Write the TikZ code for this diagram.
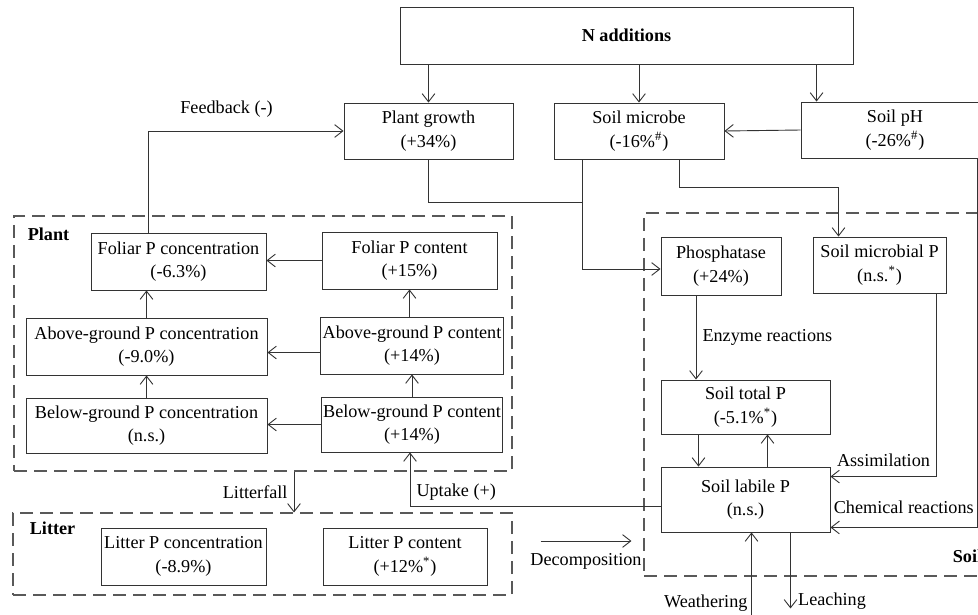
\documentclass[tikz,border=0pt]{standalone}
\usepackage{fontspec}
\setmainfont{Liberation Serif}
\usepackage{tikz}
\usetikzlibrary{arrows.meta,positioning,calc}

\begin{document}
\begin{tikzpicture}[
    x=0.55pt, y=-0.55pt,
    font=\fontsize{10}{13}\selectfont,
    box/.style 2 args={rectangle, draw=black!80, line width=0.5pt, minimum width=#1*0.55pt, minimum height=#2*0.55pt, inner sep=1pt, align=center},
    group/.style 2 args={rectangle, draw=black!65, line width=0.6pt, dash pattern=on 7pt off 4pt, minimum width=#1*0.55pt, minimum height=#2*0.55pt, inner sep=0pt},
    grouplabel/.style={font=\fontsize{10}{13}\selectfont\bfseries, anchor=west, inner sep=0pt},
    arrow/.style={-{Straight Barb[length=4.5pt,width=7pt]}, draw=black!80, line width=0.5pt},
    line/.style={draw=black!80, line width=0.5pt}
]
    \useasboundingbox (0,0) rectangle (978,614);
    \clip (0,0) rectangle (978,614);

    \node[group={498}{255}] (plant) at (263,343.5) {};
    \node[group={499}{82}] (litter) at (262.5,554) {};
    \node[group={366}{363}] (soil) at (827,394.5) {};
    \node[grouplabel] (plantlbl) at ($(plant.north west)+(14,19)$) {Plant};
    \node[grouplabel] (litterlbl) at ($(litter.north west)+(17,16)$) {Litter};
    \node[grouplabel] (soillbl) at ($(soil.south west)+(309,-20)$) {Soil};

    \node[box={453}{57}] (nadd) at (626.5,35.5) {\textbf{N additions}};
    \node[box={169}{56}] (growth) at (428.5,131) {Plant growth\\(+34\%)};
    \node[box={170}{56}] (microbe) at (639,131) {Soil microbe\\(-16\%\textsuperscript{\#})};
    \node[box={188}{56}] (ph) at (895,130) {Soil pH\\(-26\%\textsuperscript{\#})};

    \node[box={175}{57}] (fconc) at (178.5,261.5) {Foliar P concentration\\(-6.3\%)};
    \node[box={175}{57}] (fcont) at (409.5,260.5) {Foliar P content\\(+15\%)};
    \node[box={241}{57}] (aconc) at (146.5,346.5) {Above-ground P concentration\\(-9.0\%)};
    \node[box={174}{57}] (acont) at (412,345.5) {Above-ground P content\\(+14\%)};
    \node[box={241}{55}] (bconc) at (146.5,425.5) {Below-ground P concentration\\(n.s.)};
    \node[box={174}{55}] (bcont) at (412,424.5) {Below-ground P content\\(+14\%)};
    \node[box={165}{57}] (lconc) at (183.5,556.5) {Litter P concentration\\(-8.9\%)};
    \node[box={164}{57}] (lcont) at (405,556.5) {Litter P content\\(+12\%\textsuperscript{*})};

    \node[box={120}{58}] (phos) at (721,266) {Phosphatase\\(+24\%)};
    \node[box={133}{56}] (smicro) at (879.5,265) {Soil microbial P\\(n.s.\textsuperscript{*})};
    \node[box={169}{54}] (total) at (745.5,407) {Soil total P\\(-5.1\%\textsuperscript{*})};
    \node[box={169}{65}] (labile) at (745.5,499.5) {Soil labile P\\(n.s.)};

    \coordinate (phin) at ($(ph.north west)+(16,0)$);
    \coordinate (fb) at ($(fconc.north)+(-30,0)$);
    \coordinate (mdown) at ($(microbe.south west)+(29,0)$);
    \coordinate (mright) at ($(microbe.south)+(40,0)$);
    \coordinate (smin) at ($(smicro.north)+(-41,0)$);
    \coordinate (phdown) at ($(ph.south)+(82,0)$);
    \coordinate (chemin) at ($(labile.south east)+(0,-5)$);
    \coordinate (smout) at ($(smicro.south east)+(-10,0)$);
    \coordinate (asin) at ($(labile.north east)+(0,10)$);
    \coordinate (enz) at ($(phos.south)+(-25,0)$);
    \coordinate (lf) at ($(plant.south)+(31,0)$);
    \coordinate (dc) at ($(litter.east)+(28,-13)$);
    \coordinate (wt) at ($(labile.south)+(6,0)$);
    \coordinate (lc) at ($(labile.south)+(45,0)$);

    \draw[arrow] (nadd.south -| growth) -- (growth);
    \draw[arrow] (nadd.south -| microbe) -- (microbe);
    \draw[arrow] (nadd.south -| phin) -- (phin);
    \draw[arrow] (ph.west) -- (microbe.east);
    \draw[arrow] (fb) |- (growth.west) node[pos=0.7, above=4pt] {Feedback (-)};
    \draw[line] (growth.south) |- ($(mdown)+(0,43)$);
    \draw[arrow] (mdown) |- ($(phos.west)+(0,3)$);
    \draw[arrow] (mright) -- ($(mright)+(0,28)$) -| (smin);
    \draw[arrow] (phdown) |- (chemin) node[pos=0.75, above=4pt] {Chemical reactions};
    \draw[arrow] (smout) |- (asin) node[pos=0.75, above=2pt] {Assimilation};
    \draw[arrow] (enz) -- (enz |- total.north) node[midway, right] {Enzyme reactions};
    \draw[arrow] ($(total.south)+(-47,0)$) -- ($(labile.north)+(-47,0)$);
    \draw[arrow] ($(labile.north)+(22,0)$) -- ($(total.south)+(22,0)$);

    \draw[arrow] (fcont.west) -- (fcont.west -| fconc.east);
    \draw[arrow] ($(acont.west)+(0,7)$) -- ($(acont.west -| aconc.east)+(0,7)$);
    \draw[arrow] (bcont.west) -- (bcont.west -| bconc.east);
    \draw[arrow] (aconc.north) -- (aconc.north |- fconc.south);
    \draw[arrow] (bconc.north) -- (aconc.south);
    \draw[arrow] (acont.north -| fcont) -- (fcont.south);
    \draw[arrow] (bcont.north) -- (acont.south);

    \draw[arrow] ($(labile.west)+(0,7)$) -| ($(bcont.south)+(-2,0)$) node[pos=0.5, above right] {Uptake (+)};
    \draw[arrow] (lf) -- (lf |- litter.north) node[midway, left] {Litterfall};
    \draw[arrow] (dc) -- ($(soil.west |- dc)+(-12,0)$) node[midway, below=3pt] {Decomposition};
    \draw[arrow] ($(wt)+(0,90)$) -- (wt) node[pos=0.22, left, inner sep=2pt] {Weathering};
    \draw[arrow] (lc) -- ($(lc)+(0,76)$) node[pos=0.9, right, inner sep=4pt] {Leaching};
\end{tikzpicture}
\end{document}
